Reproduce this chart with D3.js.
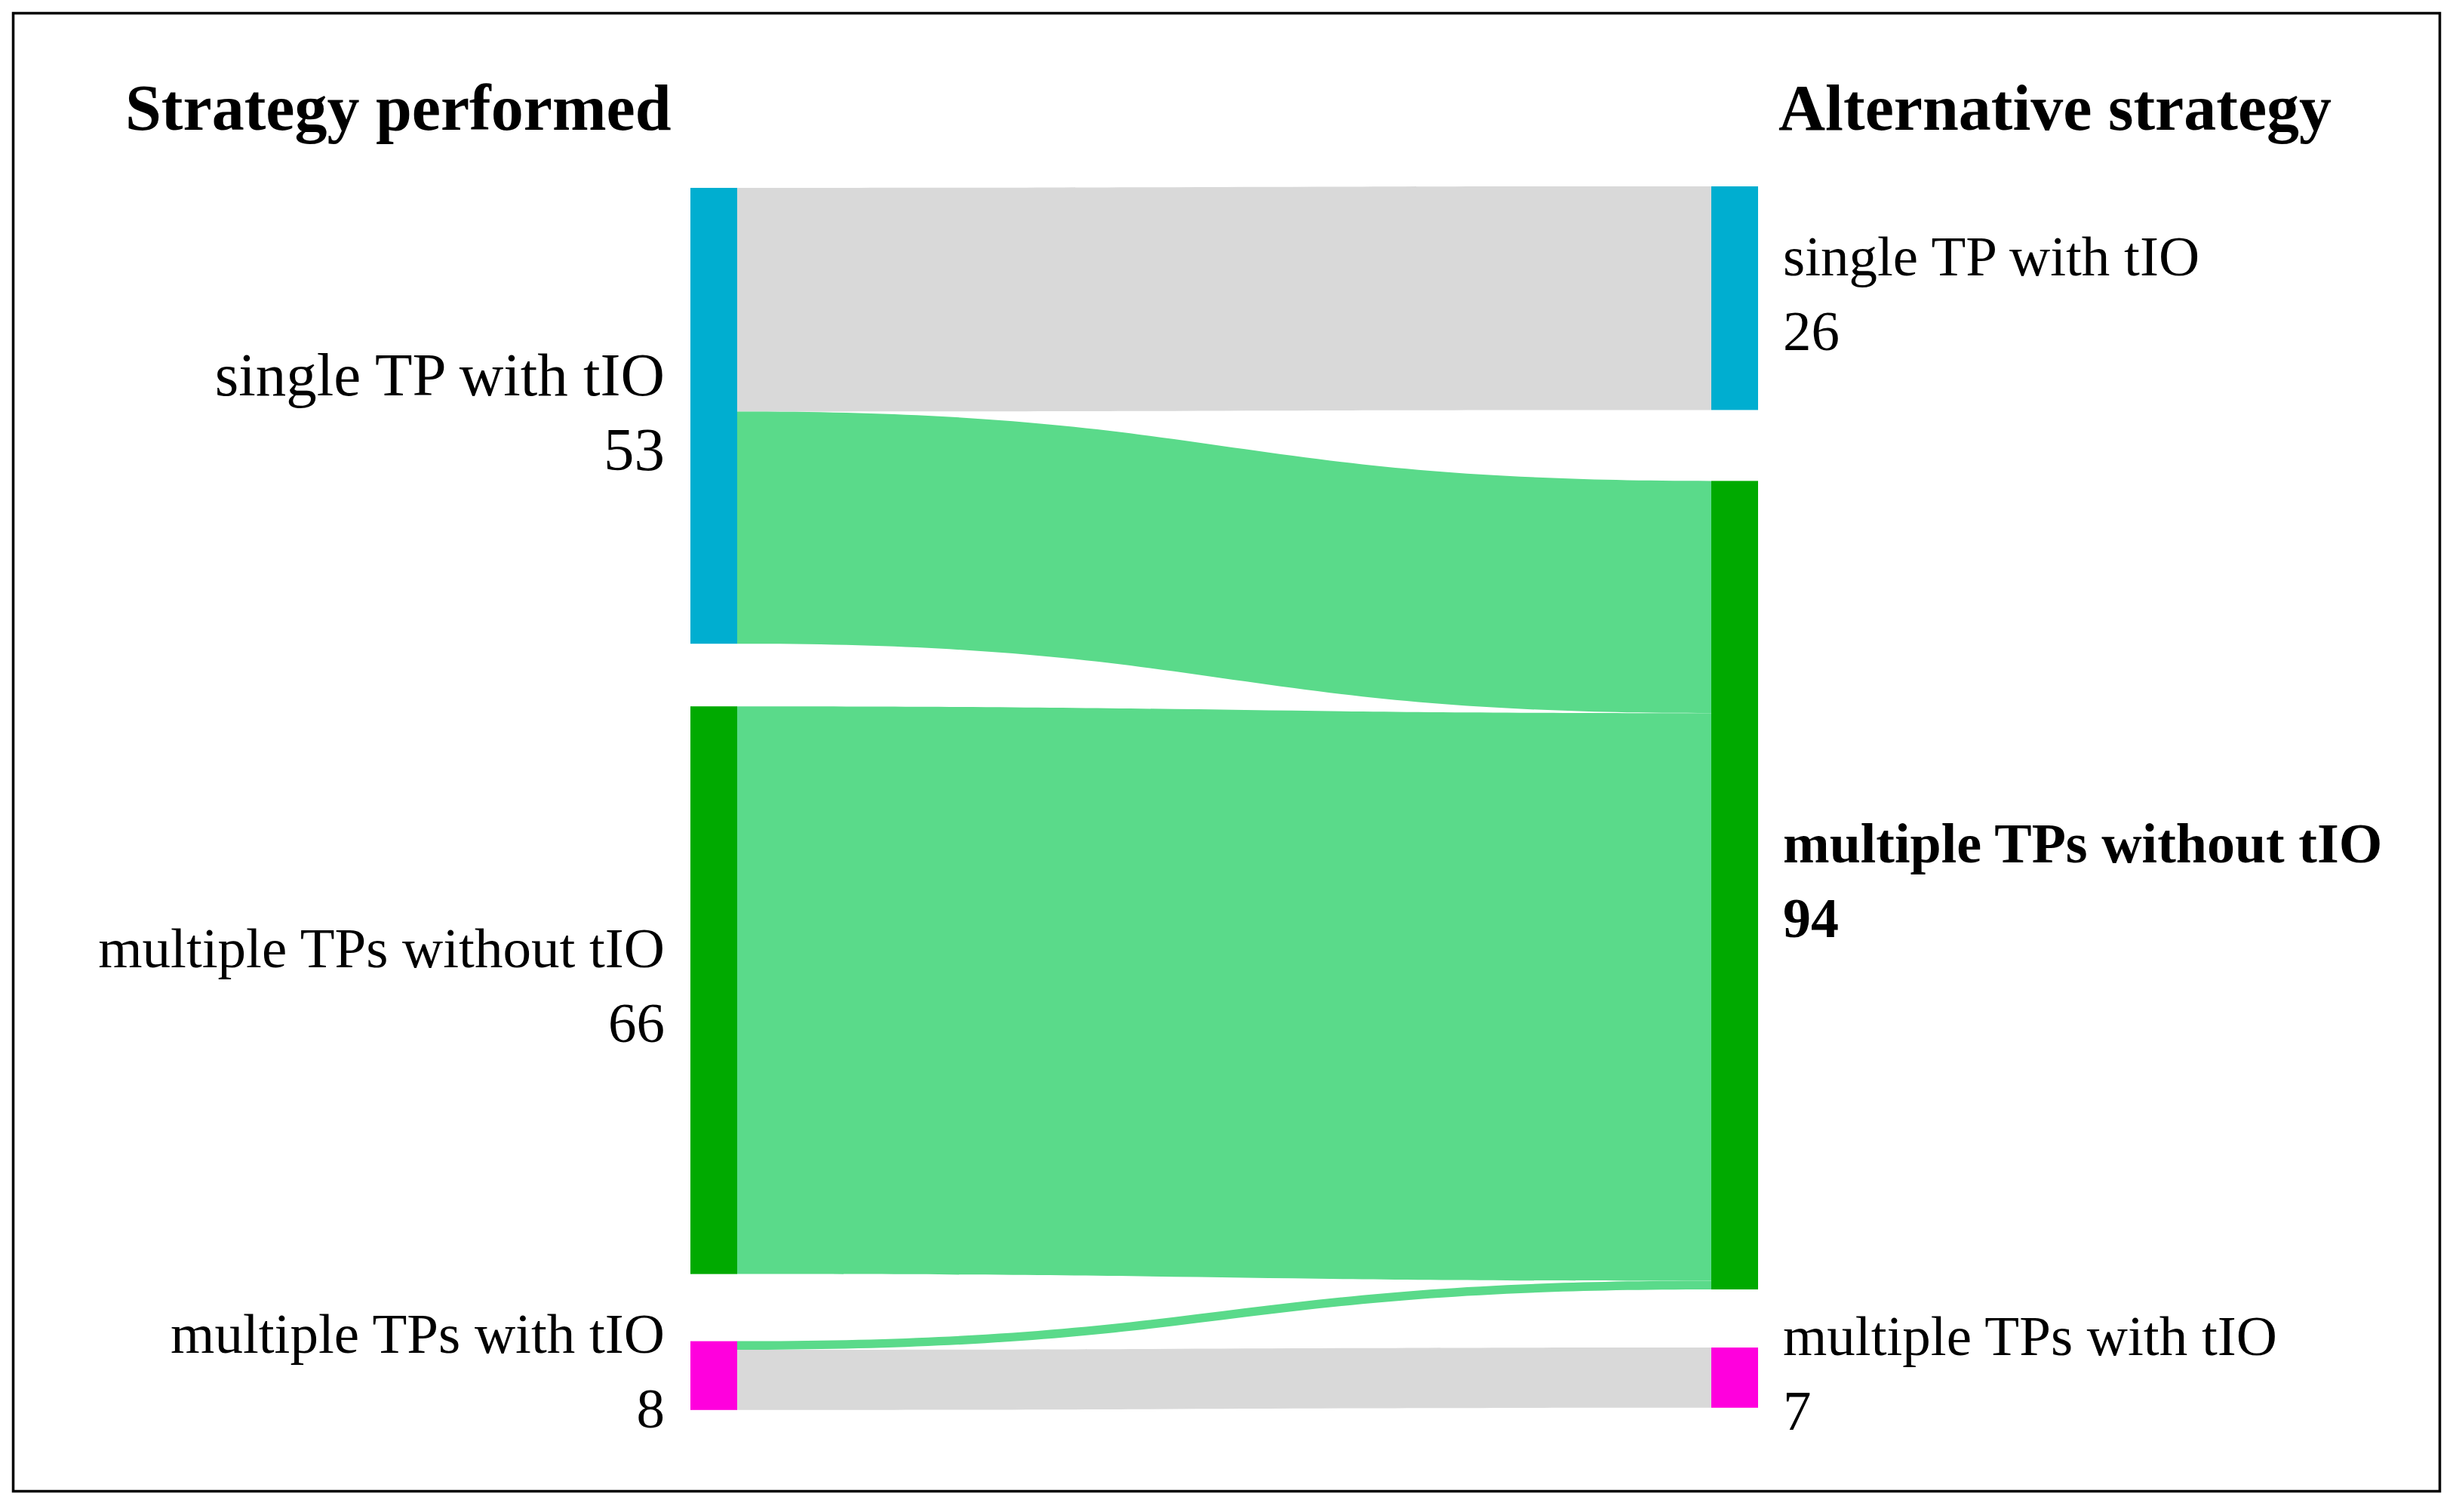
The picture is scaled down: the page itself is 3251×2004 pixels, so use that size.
<!DOCTYPE html>
<html>
<head>
<meta charset="utf-8">
<script src="https://cdn.jsdelivr.net/npm/d3@7"></script>
<style>
  html, body { margin: 0; padding: 0; background: #fff; }
  svg { display: block; }
</style>
</head>
<body>
<script>
// ---- data ----
const categories = ["single TP with tIO", "multiple TPs without tIO", "multiple TPs with tIO"];
const columnTitles = ["Strategy performed", "Alternative strategy"];
const linkSource = [0, 0, 1, 2, 2];
const linkTarget = [0, 1, 1, 1, 2];
const linkValue  = [26, 27, 66, 1, 7];
const nodeColors = ["#00AED0", "#00AA00", "#FF00DD"];
const linkColors = ["#D9D9D9", "#5ADA8A", "#5ADA8A", "#5ADA8A", "#D9D9D9"];

// ---- layout ----
const W = 3251, H = 2004;
const colX = [915, 2268];
const nodeW = 62;
const colTop = [249, 247];
const colGaps = [[83, 89], [94, 77]];
const unitPx = 11.4;
const labelSizes = [[81, 75, 75], [75, 74, 75]];

const svg = d3.select("body").append("svg").attr("width", W).attr("height", H);

svg.append("rect").attr("x", 17.5).attr("y", 17.5)
  .attr("width", 3233.5 - 17.5).attr("height", 1976.5 - 17.5)
  .attr("fill", "none").attr("stroke", "#000").attr("stroke-width", 3.5);

const totalV = d3.sum(linkValue);
const yScale = d3.scaleLinear().domain([0, totalV]).range([0, totalV * unitPx]);

// node values
const nodes = [0, 1].map(col => categories.map((name, i) => {
  const v = d3.sum(linkValue.filter((_, j) => (col === 0 ? linkSource[j] : linkTarget[j]) === i));
  return { name, i, col, value: v };
}));
nodes.forEach((colNodes, c) => {
  let y = colTop[c];
  colNodes.forEach((n, i) => {
    n.y0 = y; n.y1 = y + yScale(n.value);
    n.x0 = colX[c]; n.x1 = colX[c] + nodeW;
    y = n.y1 + (colGaps[c][i] || 0);
  });
});

// links
const links = linkValue.map((v, j) => ({ s: linkSource[j], t: linkTarget[j], v, color: linkColors[j], j }));
nodes[0].forEach(n => {
  let y = n.y0;
  links.filter(l => l.s === n.i).sort((a, b) => a.t - b.t).forEach(l => { l.sy0 = y; y += yScale(l.v); l.sy1 = y; });
});
nodes[1].forEach(n => {
  let y = n.y0;
  links.filter(l => l.t === n.i).sort((a, b) => a.s - b.s).forEach(l => { l.ty0 = y; y += yScale(l.v); l.ty1 = y; });
});

const x0 = colX[0] + nodeW, x1 = colX[1];
const xm = (x0 + x1) / 2;
function linkPath(l) {
  const p = d3.path();
  p.moveTo(x0, l.sy0);
  p.bezierCurveTo(xm, l.sy0, xm, l.ty0, x1, l.ty0);
  p.lineTo(x1, l.ty1);
  p.bezierCurveTo(xm, l.ty1, xm, l.sy1, x0, l.sy1);
  p.closePath();
  return p.toString();
}

svg.append("g").selectAll("path").data(links).join("path")
  .attr("d", linkPath).attr("fill", d => d.color);

const allNodes = nodes.flat();
svg.append("g").selectAll("rect").data(allNodes).join("rect")
  .attr("x", d => d.x0).attr("y", d => d.y0)
  .attr("width", nodeW).attr("height", d => d.y1 - d.y0)
  .attr("fill", d => nodeColors[d.i]);

// labels
const font = "'Liberation Serif', 'Times New Roman', serif";
const lab = svg.append("g").attr("font-family", font).attr("fill", "#000");
allNodes.forEach(n => {
  const cy = (n.y0 + n.y1) / 2;
  const left = n.col === 0;
  const fs = labelSizes[n.col][n.i];
  const lx = left ? n.x0 - 34 : n.x1 + 33;
  const t = lab.append("text")
    .attr("x", lx)
    .attr("font-size", fs)
    .attr("text-anchor", left ? "end" : "start")
    .attr("font-weight", (!left && n.i === 1) ? "bold" : "normal");
  t.append("tspan").attr("x", lx).attr("y", cy - 30 + (fs - 75) * 0.4).text(n.name);
  t.append("tspan").attr("x", lx).attr("y", cy + 69 + (fs - 75) * 0.4).text(n.value);
});

// column titles
svg.append("g").attr("font-family", font).attr("font-size", 86).attr("font-weight", "bold")
  .selectAll("text").data(columnTitles).join("text")
  .attr("x", (d, i) => i === 0 ? 166 : 2357).attr("y", 172).text(d => d);
</script>
</body>
</html>
